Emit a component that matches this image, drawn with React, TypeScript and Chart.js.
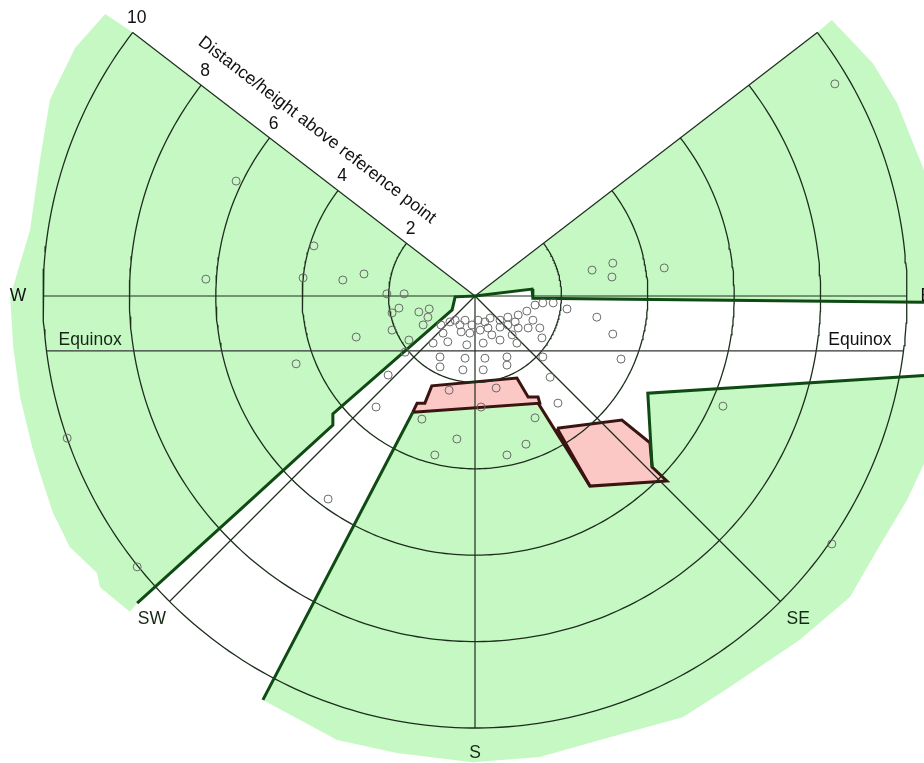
import { useEffect, useRef } from 'react';
import { Chart, registerables } from 'chart.js';

Chart.register(...registerables);

// ---- Data (units: distance/height relative to the reference point) ----
const ringValues = [2, 4, 6, 8, 10];
const ringLabels = ['2', '4', '6', '8', '10'];
const spokeAngles = [0, 37.6, 142.4, 180, 225, 270, 315];
const arcStartDeg = 142.4;
const arcEndDeg = 397.6;
const equinoxY = -1.27;
const directionLabels = ['E', 'W', 'SW', 'S', 'SE'];
const directionAngles = [0, 180, 225, 270, 315];
const axisTitle = 'Distance/height above reference point';
const equinoxLabel = 'Equinox';

const obsX = [
  -0.79, -0.58, -0.74, -0.46, -0.35, -0.32, -0.23, -0.07, -0.12, 0.07,
  0.12, 0.23, 0.30, 0.35, 0.39, 0.58, 0.58, 0.58, 0.76, 0.76,
  0.86, 0.93, 1.00, 1.00, 1.20, 1.23, 1.34, 1.39, 1.50, 1.55,
  1.57, 1.81, 2.13, -0.97, -0.63, -0.19, 0.19, 0.97, -0.81, -0.23,
  0.23, 0.74, 1.57, -0.81, -0.28, 0.19, 0.74, 1.74,
  -5.53, -6.23, -3.73, -3.98, -3.06, -2.57, -2.04, -1.64, -4.14, -9.44,
  -7.82, 8.33, 3.19, 3.17, 4.38, 2.71, 2.82, 3.19, 3.38, 5.74,
  1.92, 8.26, -3.40, -2.75, -2.29, -2.01, -1.62, -1.23, -0.42, -0.93,
  0.74, 1.18, 1.39, -0.60, 0.49, 0.14,
  -1.76, -1.92, -1.30, -1.06, -1.09, -1.20, -1.92, -1.53,
];
const obsY = [
  -0.67, -0.60, -0.86, -0.56, -0.67, -0.83, -0.56, -0.67, -0.86, -0.56,
  -0.79, -0.60, -0.74, -0.51, -0.90, -0.56, -0.72, -1.02, -0.49, -0.67,
  -0.90, -0.60, -0.44, -0.74, -0.35, -0.74, -0.56, -0.21, -0.74, -0.97,
  -0.16, -0.16, -0.30, -1.09, -1.06, -1.13, -1.09, -1.09, -1.41, -1.44,
  -1.44, -1.41, -1.41, -1.64, -1.71, -1.71, -1.60, -1.88,
  2.66, 0.39, 1.16, 0.42, 0.37, 0.51, 0.05, 0.05, -1.57, -3.29,
  -6.27, 4.91, 0.76, 0.44, 0.65, 0.60, -0.49, -0.88, -1.46, -2.55,
  -2.48, -5.74, -4.70, -0.95, -2.57, -1.83, -1.30, -2.85, -3.31, -3.68,
  -3.68, -3.43, -2.82, -2.18, -2.13, -2.57,
  -0.28, -0.39, -0.37, -0.30, -0.49, -0.67, -0.79, -1.02,
];

// Shaded (obstructed) areas
const greenWestX = [0, -7.92, -8.56, -9.26, -9.84, -10.07, -10.30, -10.76, -10.69, -10.53, -10.25, -10.02, -9.77, -9.38, -8.75, -8.68, -7.99, -7.82, -5.44, -3.29, -3.29, -0.53, -0.46, 0];
const greenWestY = [0, 6.10, 6.53, 5.74, 4.54, 3.15, 1.53, -0.02, -1.18, -2.34, -3.50, -4.26, -5.02, -5.81, -6.41, -6.74, -7.31, -7.11, -4.95, -2.99, -2.73, -0.32, -0.02, 0];
const greenNorthEastX = [0, 7.92, 8.26, 9.21, 9.77, 10.39, 11.0, 11.0, 1.34, 1.32, 0];
const greenNorthEastY = [0, 6.10, 6.39, 5.39, 4.47, 2.92, 1.06, -0.15, -0.05, 0.16, 0];
const greenSouthX = [-4.91, -3.19, -1.81, -0.05, 1.50, 2.89, 4.81, 5.90, 7.52, 8.68, 9.31, 10.00, 10.76, 11.0, 11.0, 4.00, 4.10, 4.44, 2.66, 1.46, -1.44, -4.91];
const greenSouthY = [-9.35, -10.28, -10.58, -10.79, -10.67, -10.28, -9.75, -9.05, -7.96, -6.97, -5.88, -4.72, -3.10, -2.20, -1.80, -2.25, -3.96, -4.28, -4.40, -2.48, -2.69, -9.35];

// Obstruction outlines
const edgeWestX = [0, -0.46, -0.53, -3.29, -3.29, -5.44, -7.82];
const edgeWestY = [0, -0.02, -0.32, -2.73, -2.99, -4.95, -7.11];
const edgeTopX = [0, 1.32, 1.34, 11.0];
const edgeTopY = [0, 0.16, -0.05, -0.15];
const edgeSouthX = [-4.91, -1.44];
const edgeSouthY = [-9.35, -2.69];
const edgeMidX = [1.46, 2.66];
const edgeMidY = [-2.48, -4.40];
const edgeEastX = [4.10, 4.00, 11.0];
const edgeEastY = [-3.96, -2.25, -1.80];

// Pink areas
const pinkAX = [-1.44, -1.34, -1.16, -1.00, 0.97, 1.23, 1.46, 1.50, -1.44];
const pinkAY = [-2.69, -2.48, -2.48, -2.08, -1.90, -2.34, -2.34, -2.48, -2.69];
const pinkBX = [1.90, 3.40, 4.05, 4.10, 4.44, 2.66, 1.90];
const pinkBY = [-3.06, -2.87, -3.40, -3.96, -4.28, -4.40, -3.06];

// ---- helpers ----
const toPts = (xs: number[], ys: number[]) => xs.map((x, i) => ({ x, y: ys[i] }));
const rad = (d: number) => (d * Math.PI) / 180;
const polar = (r: number, deg: number) => ({ x: r * Math.cos(rad(deg)), y: r * Math.sin(rad(deg)) });
const outerRing = ringValues[ringValues.length - 1];

function arcPoints(r: number) {
  const pts: { x: number; y: number }[] = [];
  for (let a = arcStartDeg; a < arcEndDeg; a += 1) pts.push(polar(r, a));
  pts.push(polar(r, arcEndDeg));
  return pts;
}

const GREEN = '#c6f8c4';
const PINK = '#fcc8c6';
const THIN = '#1d2e1d';
const THICK = '#0f4a14';
const PINK_EDGE = '#3a1410';
const NONE = 'rgba(0,0,0,0)';

const FONT = "17.5px 'Liberation Sans', Arial, sans-serif";

const labelPlugin = {
  id: 'diagramLabels',
  afterDatasetsDraw(chart: any) {
    const { ctx } = chart;
    const xs = chart.scales.x;
    const ys = chart.scales.y;
    const px = (v: number) => xs.getPixelForValue(v);
    const py = (v: number) => ys.getPixelForValue(v);
    ctx.save();
    ctx.font = FONT;
    ctx.fillStyle = '#111';
    ctx.textAlign = 'center';
    ctx.textBaseline = 'middle';
    const nwDeg = spokeAngles[2];
    ringValues.forEach((r, i) => {
      const p = polar(r, nwDeg);
      ctx.fillText(ringLabels[i], px(p.x) + 4, py(p.y) - 14);
    });
    directionLabels.forEach((t, i) => {
      const rr = t === 'E' ? 10.45 : 10.58;
      const p = polar(rr, directionAngles[i]);
      ctx.fillStyle = t === 'W' || t === 'E' ? '#111' : '#142814';
      ctx.fillText(t, px(p.x), py(p.y));
    });
    ctx.fillStyle = '#142814';
    ctx.fillText(equinoxLabel, px(-8.91), py(-1.02));
    ctx.fillStyle = '#111';
    ctx.fillText(equinoxLabel, px(8.91), py(-1.02));
    // axis title along the NW spoke
    const end = polar(1, nwDeg);
    const dx = px(0) - px(end.x);
    const dy = py(0) - py(end.y);
    const theta = Math.atan2(dy, dx);
    const mid = polar(5.24, nwDeg);
    const cx = px(mid.x) + 35 * Math.sin(theta);
    const cy = py(mid.y) - 35 * Math.cos(theta);
    ctx.translate(cx, cy);
    ctx.rotate(theta);
    ctx.fillText(axisTitle, 0, 0);
    ctx.restore();
  },
};

function polyDataset(xs: number[], ys: number[], color: string, order: number, edge = NONE, w = 0) {
  return {
    type: 'line' as const,
    data: toPts(xs, ys),
    backgroundColor: color,
    borderColor: edge,
    borderWidth: w,
    fill: 'shape',
    pointRadius: 0,
    tension: 0,
    order,
  };
}

function lineDataset(pts: { x: number; y: number }[], color: string, width: number, order: number) {
  return {
    type: 'line' as const,
    data: pts,
    borderColor: color,
    backgroundColor: color,
    borderWidth: width,
    fill: false,
    pointRadius: 0,
    tension: 0,
    borderJoinStyle: 'miter' as const,
    order,
  };
}

export default function App() {
  const ref = useRef<HTMLCanvasElement>(null);
  useEffect(() => {
    if (!ref.current) return;
    const datasets: any[] = [];
    datasets.push(polyDataset(greenWestX, greenWestY, GREEN, 30));
    datasets.push(polyDataset(greenNorthEastX, greenNorthEastY, GREEN, 30));
    datasets.push(polyDataset(greenSouthX, greenSouthY, GREEN, 30));
    datasets.push(polyDataset(pinkAX, pinkAY, PINK, 25, PINK_EDGE, 3));
    datasets.push(polyDataset(pinkBX, pinkBY, PINK, 25, PINK_EDGE, 3));
    ringValues.forEach((r) => datasets.push(lineDataset(arcPoints(r), THIN, 1.3, 20)));
    spokeAngles.forEach((a) => datasets.push(lineDataset([{ x: 0, y: 0 }, polar(outerRing, a)], THIN, 1.2, 19)));
    const half = Math.sqrt(outerRing * outerRing - equinoxY * equinoxY);
    datasets.push(lineDataset([{ x: -half, y: equinoxY }, { x: half, y: equinoxY }], '#333', 1.2, 19));
    datasets.push(lineDataset(toPts(edgeWestX, edgeWestY), THICK, 3, 10));
    datasets.push(lineDataset(toPts(edgeTopX, edgeTopY), THICK, 3, 10));
    datasets.push(lineDataset(toPts(edgeSouthX, edgeSouthY), THICK, 3, 10));
    datasets.push(lineDataset(toPts(edgeMidX, edgeMidY), PINK_EDGE, 3, 10));
    datasets.push(lineDataset(toPts(edgeEastX, edgeEastY), THICK, 3, 10));
    datasets.push({
      type: 'scatter' as const,
      data: toPts(obsX, obsY),
      pointRadius: 4,
      pointBorderWidth: 1,
      borderColor: '#6a6a6a',
      backgroundColor: NONE,
      pointStyle: 'circle',
      showLine: false,
      order: 1,
    });

    const chart = new Chart(ref.current, {
      type: 'scatter',
      data: { datasets },
      options: {
        responsive: false,
        devicePixelRatio: 1,
        animation: false,
        events: [],
        layout: { padding: 0, autoPadding: false },
        plugins: { legend: { display: false }, tooltip: { enabled: false } },
        scales: {
          x: { type: 'linear', min: -475 / 43.2, max: 449 / 43.2, display: false },
          y: { type: 'linear', min: -467 / 43.2, max: 296 / 43.2, display: false },
        },
      },
      plugins: [labelPlugin],
    } as any);
    return () => chart.destroy();
  }, []);
  return (
    <div style={{ position: 'fixed', left: 0, top: 0, width: 924, height: 763, background: '#fff' }}>
      <canvas ref={ref} width={924} height={763} style={{ display: 'block', width: 924, height: 763 }} />
    </div>
  );
}
